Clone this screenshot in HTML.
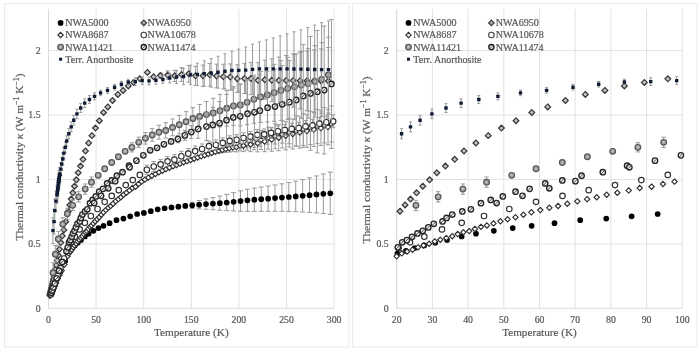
<!DOCTYPE html>
<html><head><meta charset="utf-8"><style>
html,body{margin:0;padding:0;background:#fff;width:700px;height:350px;overflow:hidden}
svg{display:block}
</style></head><body>
<svg width="700" height="350" viewBox="0 0 700 350" style="will-change:transform">
<rect width="700" height="350" fill="#fff"/>
<rect x="4.5" y="3.5" width="344.5" height="343.5" fill="none" stroke="#ebebeb" stroke-width="1"/><rect x="352.5" y="3.5" width="344.5" height="343.5" fill="none" stroke="#ebebeb" stroke-width="1"/><path d="M48.5 9.0V308.3M96.1 9.0V308.3M143.7 9.0V308.3M191.3 9.0V308.3M238.9 9.0V308.3M286.5 9.0V308.3M334.1 9.0V308.3M48.5 243.88H334.1M48.5 179.45H334.1M48.5 115.03H334.1M48.5 50.6H334.1" stroke="#e2e2e2" stroke-width="1" fill="none"/><path d="M48.5 308.3H334.1M48.5 9.0V308.3" stroke="#dadada" stroke-width="1" fill="none"/><g font-family="Liberation Serif" font-size="9.75" fill="#595959" stroke="#595959" stroke-width="0.22"><text x="48.5" y="323" text-anchor="middle">0</text><text x="96.1" y="323" text-anchor="middle">50</text><text x="143.7" y="323" text-anchor="middle">100</text><text x="191.3" y="323" text-anchor="middle">150</text><text x="238.9" y="323" text-anchor="middle">200</text><text x="286.5" y="323" text-anchor="middle">250</text><text x="334.1" y="323" text-anchor="middle">300</text><text x="40.5" y="311.6" text-anchor="end">0</text><text x="40.5" y="247.18" text-anchor="end">0.5</text><text x="40.5" y="182.75" text-anchor="end">1</text><text x="40.5" y="118.33" text-anchor="end">1.5</text><text x="40.5" y="53.9" text-anchor="end">2</text></g><text x="191.3" y="335.9" text-anchor="middle" font-family="Liberation Serif" font-size="11.2" fill="#595959" stroke="#595959" stroke-width="0.2">Temperature (K)</text><text transform="translate(23.4 157.0) rotate(-90)" text-anchor="middle" font-family="Liberation Serif" font-size="11.4" fill="#595959" stroke="#595959" stroke-width="0.2">Thermal conductivity <tspan font-style="italic">κ</tspan> (W m<tspan font-size="7.8" dy="-4.2">−1</tspan><tspan dy="4.2"> K</tspan><tspan font-size="7.8" dy="-4.2">−1</tspan><tspan dy="4.2">)</tspan></text><clipPath id="cL"><rect x="44.5" y="0" width="293.6" height="312.3"/></clipPath><g clip-path="url(#cL)"><path d="M185.3 204.07V207.84M182.8 204.07h5.0M182.8 207.84h5.0M192.2 202.3V208.35M189.7 202.3h5.0M189.7 208.35h5.0M199.11 200.52V208.82M196.61 200.52h5.0M196.61 208.82h5.0M206.01 198.91V209.23M203.51 198.91h5.0M203.51 209.23h5.0M212.91 197.49V209.72M210.41 197.49h5.0M210.41 209.72h5.0M219.81 196.06V210.22M217.31 196.06h5.0M217.31 210.22h5.0M226.71 194.4V210.65M224.21 194.4h5.0M224.21 210.65h5.0M233.62 192.61V211.04M231.12 192.61h5.0M231.12 211.04h5.0M240.52 190.83V211.27M238.02 190.83h5.0M238.02 211.27h5.0M247.42 189.26V211.36M244.92 189.26h5.0M244.92 211.36h5.0M254.32 188.02V211.38M251.82 188.02h5.0M251.82 211.38h5.0M261.22 186.96V211.35M258.72 186.96h5.0M258.72 211.35h5.0M268.13 185.96V211.3M265.63 185.96h5.0M265.63 211.3h5.0M275.03 184.96V211.27M272.53 184.96h5.0M272.53 211.27h5.0M281.93 183.84V211.29M279.43 183.84h5.0M279.43 211.29h5.0M288.83 182.57V211.43M286.33 182.57h5.0M286.33 211.43h5.0M295.73 181.14V211.69M293.23 181.14h5.0M293.23 211.69h5.0M302.64 179.57V212.05M300.14 179.57h5.0M300.14 212.05h5.0M309.54 177.81V212.45M307.04 177.81h5.0M307.04 212.45h5.0M316.44 175.93V212.92M313.94 175.93h5.0M313.94 212.92h5.0M323.34 174.01V213.54M320.84 174.01h5.0M320.84 213.54h5.0M330.24 172.13V214.36M327.74 172.13h5.0M327.74 214.36h5.0" stroke="#9a9a9a" stroke-width="1.0" fill="none"/><g fill="#000"><circle cx="51.83" cy="291.39" r="2.85"/><circle cx="53.1" cy="288.28" r="2.85"/><circle cx="54.85" cy="283.87" r="2.85"/><circle cx="57.26" cy="278.47" r="2.85"/><circle cx="60.58" cy="271.38" r="2.85"/><circle cx="65.18" cy="261.09" r="2.85"/><circle cx="67.73" cy="253.67" r="2.85"/><circle cx="70.02" cy="250.96" r="2.85"/><circle cx="72.3" cy="248" r="2.85"/><circle cx="74.87" cy="245.38" r="2.85"/><circle cx="77.82" cy="242.77" r="2.85"/><circle cx="80.96" cy="240.01" r="2.85"/><circle cx="84.87" cy="236.4" r="2.85"/><circle cx="88.67" cy="233.7" r="2.85"/><circle cx="93.43" cy="230.86" r="2.85"/><circle cx="98.48" cy="228.03" r="2.85"/><circle cx="103.53" cy="225.84" r="2.85"/><circle cx="109.62" cy="223.13" r="2.85"/><circle cx="116.47" cy="220.17" r="2.85"/><circle cx="123.42" cy="218.62" r="2.85"/><circle cx="130.18" cy="216.3" r="2.85"/><circle cx="137.13" cy="213.98" r="2.85"/><circle cx="143.89" cy="212.95" r="2.85"/><circle cx="150.79" cy="211.16" r="2.85"/><circle cx="157.69" cy="209.33" r="2.85"/><circle cx="164.6" cy="208.23" r="2.85"/><circle cx="171.5" cy="207.38" r="2.85"/><circle cx="178.4" cy="206.63" r="2.85"/><circle cx="185.3" cy="205.95" r="2.85"/><circle cx="192.2" cy="205.33" r="2.85"/><circle cx="199.11" cy="204.67" r="2.85"/><circle cx="206.01" cy="204.07" r="2.85"/><circle cx="212.91" cy="203.61" r="2.85"/><circle cx="219.81" cy="203.14" r="2.85"/><circle cx="226.71" cy="202.52" r="2.85"/><circle cx="233.62" cy="201.83" r="2.85"/><circle cx="240.52" cy="201.05" r="2.85"/><circle cx="247.42" cy="200.31" r="2.85"/><circle cx="254.32" cy="199.7" r="2.85"/><circle cx="261.22" cy="199.15" r="2.85"/><circle cx="268.13" cy="198.63" r="2.85"/><circle cx="275.03" cy="198.11" r="2.85"/><circle cx="281.93" cy="197.56" r="2.85"/><circle cx="288.83" cy="197" r="2.85"/><circle cx="295.73" cy="196.42" r="2.85"/><circle cx="302.64" cy="195.81" r="2.85"/><circle cx="309.54" cy="195.13" r="2.85"/><circle cx="316.44" cy="194.42" r="2.85"/><circle cx="323.34" cy="193.78" r="2.85"/><circle cx="330.24" cy="193.24" r="2.85"/></g><path d="M153.6 75.73V77.79M151.4 75.73h4.4M151.4 77.79h4.4M160.46 73.08V78.11M158.26 73.08h4.4M158.26 78.11h4.4M167.69 70.86V79.31M165.49 70.86h4.4M165.49 79.31h4.4M174.74 70.25V81.46M172.54 70.25h4.4M172.54 81.46h4.4M181.59 67.63V81.5M179.39 67.63h4.4M179.39 81.5h4.4M188.82 65.45V82.14M186.62 65.45h4.4M186.62 82.14h4.4M195.58 66.3V85.41M193.38 66.3h4.4M193.38 85.41h4.4M203.01 65.11V86.34M200.81 65.11h4.4M200.81 86.34h4.4M209.77 63.54V86.11M207.57 63.54h4.4M207.57 86.11h4.4M216.53 64.18V87.79M214.33 64.18h4.4M214.33 87.79h4.4M223.38 64.25V89M221.18 64.25h4.4M221.18 89h4.4M230.33 63.92V90.11M228.13 63.92h4.4M228.13 90.11h4.4M237.28 64.78V92.6M235.08 64.78h4.4M235.08 92.6h4.4M244.52 63.63V93.49M242.32 63.63h4.4M242.32 93.49h4.4M250.99 62.43V94.69M248.79 62.43h4.4M248.79 94.69h4.4M257.94 62.62V98.11M255.74 62.62h4.4M255.74 98.11h4.4M264.89 60.16V99.28M262.69 60.16h4.4M262.69 99.28h4.4M271.84 58.8V101.67M269.64 58.8h4.4M269.64 101.67h4.4M278.88 57.11V103.61M276.68 57.11h4.4M276.68 103.61h4.4M286.21 55.49V105.5M284.01 55.49h4.4M284.01 105.5h4.4M293.16 53.95V107.3M290.96 53.95h4.4M290.96 107.3h4.4M300.11 52.47V109.03M297.91 52.47h4.4M297.91 109.03h4.4M307.06 51V110.5M304.86 51h4.4M304.86 110.5h4.4M314.11 49.87V111.89M311.91 49.87h4.4M311.91 111.89h4.4M321.15 48.83V113.18M318.95 48.83h4.4M318.95 113.18h4.4M328.39 47.51V114.51M326.19 47.51h4.4M326.19 114.51h4.4" stroke="#9a9a9a" stroke-width="1.0" fill="none"/><g fill="#c6c6c6" stroke="#383838" stroke-width="1.25"><path d="M49.93 292.56l2.85 2.85l-2.85 2.85l-2.85 -2.85z"/><path d="M50.1 291.79l2.85 2.85l-2.85 2.85l-2.85 -2.85z"/><path d="M50.29 290.91l2.85 2.85l-2.85 2.85l-2.85 -2.85z"/><path d="M50.51 289.93l2.85 2.85l-2.85 2.85l-2.85 -2.85z"/><path d="M50.75 288.83l2.85 2.85l-2.85 2.85l-2.85 -2.85z"/><path d="M51.02 287.58l2.85 2.85l-2.85 2.85l-2.85 -2.85z"/><path d="M51.32 286.19l2.85 2.85l-2.85 2.85l-2.85 -2.85z"/><path d="M51.66 284.63l2.85 2.85l-2.85 2.85l-2.85 -2.85z"/><path d="M52.04 282.86l2.85 2.85l-2.85 2.85l-2.85 -2.85z"/><path d="M52.46 280.88l2.85 2.85l-2.85 2.85l-2.85 -2.85z"/><path d="M52.94 278.64l2.85 2.85l-2.85 2.85l-2.85 -2.85z"/><path d="M53.47 276.12l2.85 2.85l-2.85 2.85l-2.85 -2.85z"/><path d="M54.06 273.26l2.85 2.85l-2.85 2.85l-2.85 -2.85z"/><path d="M54.73 270.03l2.85 2.85l-2.85 2.85l-2.85 -2.85z"/><path d="M55.48 266.38l2.85 2.85l-2.85 2.85l-2.85 -2.85z"/><path d="M56.32 262.28l2.85 2.85l-2.85 2.85l-2.85 -2.85z"/><path d="M57.25 257.67l2.85 2.85l-2.85 2.85l-2.85 -2.85z"/><path d="M58.3 252.5l2.85 2.85l-2.85 2.85l-2.85 -2.85z"/><path d="M59.48 246.45l2.85 2.85l-2.85 2.85l-2.85 -2.85z"/><path d="M60.8 239.72l2.85 2.85l-2.85 2.85l-2.85 -2.85z"/><path d="M62.27 233.03l2.85 2.85l-2.85 2.85l-2.85 -2.85z"/><path d="M63.93 227.09l2.85 2.85l-2.85 2.85l-2.85 -2.85z"/><path d="M65.78 218.85l2.85 2.85l-2.85 2.85l-2.85 -2.85z"/><path d="M68.42 208.3l2.85 2.85l-2.85 2.85l-2.85 -2.85z"/><path d="M69.78 202.11l2.85 2.85l-2.85 2.85l-2.85 -2.85z"/><path d="M71.22 196.19l2.85 2.85l-2.85 2.85l-2.85 -2.85z"/><path d="M72.84 190l2.85 2.85l-2.85 2.85l-2.85 -2.85z"/><path d="M74.5 183.3l2.85 2.85l-2.85 2.85l-2.85 -2.85z"/><path d="M76.32 176.99l2.85 2.85l-2.85 2.85l-2.85 -2.85z"/><path d="M78.23 169.9l2.85 2.85l-2.85 2.85l-2.85 -2.85z"/><path d="M80.53 163.2l2.85 2.85l-2.85 2.85l-2.85 -2.85z"/><path d="M83.01 156.5l2.85 2.85l-2.85 2.85l-2.85 -2.85z"/><path d="M85.49 148.12l2.85 2.85l-2.85 2.85l-2.85 -2.85z"/><path d="M88.66 140.14l2.85 2.85l-2.85 2.85l-2.85 -2.85z"/><path d="M91.94 132.79l2.85 2.85l-2.85 2.85l-2.85 -2.85z"/><path d="M95.48 125.19l2.85 2.85l-2.85 2.85l-2.85 -2.85z"/><path d="M99.36 117.84l2.85 2.85l-2.85 2.85l-2.85 -2.85z"/><path d="M103.56 109.6l2.85 2.85l-2.85 2.85l-2.85 -2.85z"/><path d="M107.81 104.06l2.85 2.85l-2.85 2.85l-2.85 -2.85z"/><path d="M112.53 97.61l2.85 2.85l-2.85 2.85l-2.85 -2.85z"/><path d="M117.83 91.56l2.85 2.85l-2.85 2.85l-2.85 -2.85z"/><path d="M123.06 87.56l2.85 2.85l-2.85 2.85l-2.85 -2.85z"/><path d="M128.26 83.05l2.85 2.85l-2.85 2.85l-2.85 -2.85z"/><path d="M133.57 79.58l2.85 2.85l-2.85 2.85l-2.85 -2.85z"/><path d="M139.83 75.97l2.85 2.85l-2.85 2.85l-2.85 -2.85z"/><path d="M147.41 69.53l2.85 2.85l-2.85 2.85l-2.85 -2.85z"/><path d="M153.6 73.91l2.85 2.85l-2.85 2.85l-2.85 -2.85z"/><path d="M160.46 72.75l2.85 2.85l-2.85 2.85l-2.85 -2.85z"/><path d="M167.69 72.23l2.85 2.85l-2.85 2.85l-2.85 -2.85z"/><path d="M174.74 73l2.85 2.85l-2.85 2.85l-2.85 -2.85z"/><path d="M181.59 71.72l2.85 2.85l-2.85 2.85l-2.85 -2.85z"/><path d="M188.82 70.94l2.85 2.85l-2.85 2.85l-2.85 -2.85z"/><path d="M195.58 73l2.85 2.85l-2.85 2.85l-2.85 -2.85z"/><path d="M203.01 72.88l2.85 2.85l-2.85 2.85l-2.85 -2.85z"/><path d="M209.77 71.97l2.85 2.85l-2.85 2.85l-2.85 -2.85z"/><path d="M216.53 73.13l2.85 2.85l-2.85 2.85l-2.85 -2.85z"/><path d="M223.38 73.78l2.85 2.85l-2.85 2.85l-2.85 -2.85z"/><path d="M230.33 74.16l2.85 2.85l-2.85 2.85l-2.85 -2.85z"/><path d="M237.28 75.84l2.85 2.85l-2.85 2.85l-2.85 -2.85z"/><path d="M244.52 75.71l2.85 2.85l-2.85 2.85l-2.85 -2.85z"/><path d="M250.99 75.71l2.85 2.85l-2.85 2.85l-2.85 -2.85z"/><path d="M257.94 77.51l2.85 2.85l-2.85 2.85l-2.85 -2.85z"/><path d="M264.89 76.87l2.85 2.85l-2.85 2.85l-2.85 -2.85z"/><path d="M271.84 77.39l2.85 2.85l-2.85 2.85l-2.85 -2.85z"/><path d="M278.88 77.51l2.85 2.85l-2.85 2.85l-2.85 -2.85z"/><path d="M286.21 77.64l2.85 2.85l-2.85 2.85l-2.85 -2.85z"/><path d="M293.16 77.77l2.85 2.85l-2.85 2.85l-2.85 -2.85z"/><path d="M300.11 77.9l2.85 2.85l-2.85 2.85l-2.85 -2.85z"/><path d="M307.06 77.9l2.85 2.85l-2.85 2.85l-2.85 -2.85z"/><path d="M314.11 78.03l2.85 2.85l-2.85 2.85l-2.85 -2.85z"/><path d="M321.15 78.16l2.85 2.85l-2.85 2.85l-2.85 -2.85z"/><path d="M328.39 78.16l2.85 2.85l-2.85 2.85l-2.85 -2.85z"/></g><path d="M208.25 153.08V154.99M206.05 153.08h4.4M206.05 154.99h4.4M211.77 151.57V154.27M209.57 151.57h4.4M209.57 154.27h4.4M215.29 150.08V153.64M213.09 150.08h4.4M213.09 153.64h4.4M218.81 148.62V153.12M216.61 148.62h4.4M216.61 153.12h4.4M222.34 147.21V152.7M220.14 147.21h4.4M220.14 152.7h4.4M225.86 145.85V152.36M223.66 145.85h4.4M223.66 152.36h4.4M229.38 144.53V152.09M227.18 144.53h4.4M227.18 152.09h4.4M232.9 143.09V151.69M230.7 143.09h4.4M230.7 151.69h4.4M236.42 142.24V151.85M234.22 142.24h4.4M234.22 151.85h4.4M239.95 140.24V150.84M237.75 140.24h4.4M237.75 150.84h4.4M243.47 139.91V151.62M241.27 139.91h4.4M241.27 151.62h4.4M246.99 137.22V150.19M244.79 137.22h4.4M244.79 150.19h4.4M250.51 137.33V151.68M248.31 137.33h4.4M248.31 151.68h4.4M254.04 133.95V149.77M251.84 133.95h4.4M251.84 149.77h4.4M257.56 134.52V151.86M255.36 134.52h4.4M255.36 151.86h4.4M261.08 130.58V149.48M258.88 130.58h4.4M258.88 149.48h4.4M264.6 131.22V151.68M262.4 131.22h4.4M262.4 151.68h4.4M268.13 127.21V149.2M265.93 127.21h4.4M265.93 149.2h4.4M271.65 127.85V151.31M269.45 127.85h4.4M269.45 151.31h4.4M275.17 123.89V148.73M272.97 123.89h4.4M272.97 148.73h4.4M278.69 124.62V150.73M276.49 124.62h4.4M276.49 150.73h4.4M282.22 120.8V148.03M280.02 120.8h4.4M280.02 148.03h4.4M285.74 121.73V149.9M283.54 121.73h4.4M283.54 149.9h4.4M289.26 118.13V147.1M287.06 118.13h4.4M287.06 147.1h4.4M292.78 119.21V148.97M290.58 119.21h4.4M290.58 148.97h4.4M296.31 115.7V146.21M294.11 115.7h4.4M294.11 146.21h4.4M299.83 116.85V148.1M297.63 116.85h4.4M297.63 148.1h4.4M303.35 113.39V145.35M301.15 113.39h4.4M301.15 145.35h4.4M306.87 114.61V147.24M304.67 114.61h4.4M304.67 147.24h4.4M310.4 111.23V144.49M308.2 111.23h4.4M308.2 144.49h4.4M313.92 112.54V146.39M311.72 112.54h4.4M311.72 146.39h4.4M317.44 109.26V143.64M315.24 109.26h4.4M315.24 143.64h4.4M320.96 110.71V145.57M318.76 110.71h4.4M318.76 145.57h4.4M324.48 107.6V142.88M322.28 107.6h4.4M322.28 142.88h4.4M328.01 109.15V144.79M325.81 109.15h4.4M325.81 144.79h4.4M331.53 106.03V141.94M329.33 106.03h4.4M329.33 141.94h4.4" stroke="#9a9a9a" stroke-width="1.0" fill="none"/><g fill="#fff" stroke="#303030" stroke-width="1.15"><path d="M50.69 292.15l2.65 2.65l-2.65 2.65l-2.65 -2.65z"/><path d="M51.7 289.97l2.65 2.65l-2.65 2.65l-2.65 -2.65z"/><path d="M52.73 287.73l2.65 2.65l-2.65 2.65l-2.65 -2.65z"/><path d="M53.79 285.48l2.65 2.65l-2.65 2.65l-2.65 -2.65z"/><path d="M54.87 283.13l2.65 2.65l-2.65 2.65l-2.65 -2.65z"/><path d="M56.14 280.04l2.65 2.65l-2.65 2.65l-2.65 -2.65z"/><path d="M57.67 276.17l2.65 2.65l-2.65 2.65l-2.65 -2.65z"/><path d="M59.51 272.31l2.65 2.65l-2.65 2.65l-2.65 -2.65z"/><path d="M61.71 267.81l2.65 2.65l-2.65 2.65l-2.65 -2.65z"/><path d="M64.35 261.97l2.65 2.65l-2.65 2.65l-2.65 -2.65z"/><path d="M67.52 253.67l2.65 2.65l-2.65 2.65l-2.65 -2.65z"/><path d="M68.87 250.76l2.65 2.65l-2.65 2.65l-2.65 -2.65z"/><path d="M70.3 248.82l2.65 2.65l-2.65 2.65l-2.65 -2.65z"/><path d="M71.76 247.02l2.65 2.65l-2.65 2.65l-2.65 -2.65z"/><path d="M73.22 244.7l2.65 2.65l-2.65 2.65l-2.65 -2.65z"/><path d="M74.69 242.77l2.65 2.65l-2.65 2.65l-2.65 -2.65z"/><path d="M76.18 241.1l2.65 2.65l-2.65 2.65l-2.65 -2.65z"/><path d="M77.7 238.78l2.65 2.65l-2.65 2.65l-2.65 -2.65z"/><path d="M79.16 237.1l2.65 2.65l-2.65 2.65l-2.65 -2.65z"/><path d="M80.76 235.3l2.65 2.65l-2.65 2.65l-2.65 -2.65z"/><path d="M82.34 233.62l2.65 2.65l-2.65 2.65l-2.65 -2.65z"/><path d="M83.81 231.43l2.65 2.65l-2.65 2.65l-2.65 -2.65z"/><path d="M85.32 229.63l2.65 2.65l-2.65 2.65l-2.65 -2.65z"/><path d="M86.88 228.47l2.65 2.65l-2.65 2.65l-2.65 -2.65z"/><path d="M88.39 226.28l2.65 2.65l-2.65 2.65l-2.65 -2.65z"/><path d="M90 224.22l2.65 2.65l-2.65 2.65l-2.65 -2.65z"/><path d="M91.6 222.8l2.65 2.65l-2.65 2.65l-2.65 -2.65z"/><path d="M93.35 220.74l2.65 2.65l-2.65 2.65l-2.65 -2.65z"/><path d="M95.2 218.68l2.65 2.65l-2.65 2.65l-2.65 -2.65z"/><path d="M97.11 216.61l2.65 2.65l-2.65 2.65l-2.65 -2.65z"/><path d="M99.22 214.55l2.65 2.65l-2.65 2.65l-2.65 -2.65z"/><path d="M101.33 212.1l2.65 2.65l-2.65 2.65l-2.65 -2.65z"/><path d="M103.46 209.66l2.65 2.65l-2.65 2.65l-2.65 -2.65z"/><path d="M105.83 207.47l2.65 2.65l-2.65 2.65l-2.65 -2.65z"/><path d="M108.26 205.15l2.65 2.65l-2.65 2.65l-2.65 -2.65z"/><path d="M110.58 203.34l2.65 2.65l-2.65 2.65l-2.65 -2.65z"/><path d="M113.04 201.02l2.65 2.65l-2.65 2.65l-2.65 -2.65z"/><path d="M115.7 198.7l2.65 2.65l-2.65 2.65l-2.65 -2.65z"/><path d="M118.31 196.51l2.65 2.65l-2.65 2.65l-2.65 -2.65z"/><path d="M120.87 194.58l2.65 2.65l-2.65 2.65l-2.65 -2.65z"/><path d="M123.54 192.13l2.65 2.65l-2.65 2.65l-2.65 -2.65z"/><path d="M126.36 190.07l2.65 2.65l-2.65 2.65l-2.65 -2.65z"/><path d="M129.41 187.75l2.65 2.65l-2.65 2.65l-2.65 -2.65z"/><path d="M132.34 185.3l2.65 2.65l-2.65 2.65l-2.65 -2.65z"/><path d="M135.51 184.02l2.65 2.65l-2.65 2.65l-2.65 -2.65z"/><path d="M138.55 181.31l2.65 2.65l-2.65 2.65l-2.65 -2.65z"/><path d="M141.62 178.99l2.65 2.65l-2.65 2.65l-2.65 -2.65z"/><path d="M144.84 176.98l2.65 2.65l-2.65 2.65l-2.65 -2.65z"/><path d="M148.36 174.95l2.65 2.65l-2.65 2.65l-2.65 -2.65z"/><path d="M151.89 173.06l2.65 2.65l-2.65 2.65l-2.65 -2.65z"/><path d="M155.41 171.29l2.65 2.65l-2.65 2.65l-2.65 -2.65z"/><path d="M158.93 169.62l2.65 2.65l-2.65 2.65l-2.65 -2.65z"/><path d="M162.45 168.03l2.65 2.65l-2.65 2.65l-2.65 -2.65z"/><path d="M165.98 166.5l2.65 2.65l-2.65 2.65l-2.65 -2.65z"/><path d="M169.5 165.04l2.65 2.65l-2.65 2.65l-2.65 -2.65z"/><path d="M173.02 163.64l2.65 2.65l-2.65 2.65l-2.65 -2.65z"/><path d="M176.54 162.29l2.65 2.65l-2.65 2.65l-2.65 -2.65z"/><path d="M180.07 160.99l2.65 2.65l-2.65 2.65l-2.65 -2.65z"/><path d="M183.59 159.72l2.65 2.65l-2.65 2.65l-2.65 -2.65z"/><path d="M187.11 158.49l2.65 2.65l-2.65 2.65l-2.65 -2.65z"/><path d="M190.63 157.27l2.65 2.65l-2.65 2.65l-2.65 -2.65z"/><path d="M194.16 156.08l2.65 2.65l-2.65 2.65l-2.65 -2.65z"/><path d="M197.68 154.89l2.65 2.65l-2.65 2.65l-2.65 -2.65z"/><path d="M201.2 153.71l2.65 2.65l-2.65 2.65l-2.65 -2.65z"/><path d="M204.72 152.53l2.65 2.65l-2.65 2.65l-2.65 -2.65z"/><path d="M208.25 151.38l2.65 2.65l-2.65 2.65l-2.65 -2.65z"/><path d="M211.77 150.27l2.65 2.65l-2.65 2.65l-2.65 -2.65z"/><path d="M215.29 149.21l2.65 2.65l-2.65 2.65l-2.65 -2.65z"/><path d="M218.81 148.22l2.65 2.65l-2.65 2.65l-2.65 -2.65z"/><path d="M222.34 147.3l2.65 2.65l-2.65 2.65l-2.65 -2.65z"/><path d="M225.86 146.46l2.65 2.65l-2.65 2.65l-2.65 -2.65z"/><path d="M229.38 145.66l2.65 2.65l-2.65 2.65l-2.65 -2.65z"/><path d="M232.9 144.74l2.65 2.65l-2.65 2.65l-2.65 -2.65z"/><path d="M236.42 144.4l2.65 2.65l-2.65 2.65l-2.65 -2.65z"/><path d="M239.95 142.89l2.65 2.65l-2.65 2.65l-2.65 -2.65z"/><path d="M243.47 143.11l2.65 2.65l-2.65 2.65l-2.65 -2.65z"/><path d="M246.99 141.06l2.65 2.65l-2.65 2.65l-2.65 -2.65z"/><path d="M250.51 141.86l2.65 2.65l-2.65 2.65l-2.65 -2.65z"/><path d="M254.04 139.21l2.65 2.65l-2.65 2.65l-2.65 -2.65z"/><path d="M257.56 140.54l2.65 2.65l-2.65 2.65l-2.65 -2.65z"/><path d="M261.08 137.38l2.65 2.65l-2.65 2.65l-2.65 -2.65z"/><path d="M264.6 138.8l2.65 2.65l-2.65 2.65l-2.65 -2.65z"/><path d="M268.13 135.56l2.65 2.65l-2.65 2.65l-2.65 -2.65z"/><path d="M271.65 136.93l2.65 2.65l-2.65 2.65l-2.65 -2.65z"/><path d="M275.17 133.66l2.65 2.65l-2.65 2.65l-2.65 -2.65z"/><path d="M278.69 135.02l2.65 2.65l-2.65 2.65l-2.65 -2.65z"/><path d="M282.22 131.77l2.65 2.65l-2.65 2.65l-2.65 -2.65z"/><path d="M285.74 133.17l2.65 2.65l-2.65 2.65l-2.65 -2.65z"/><path d="M289.26 129.96l2.65 2.65l-2.65 2.65l-2.65 -2.65z"/><path d="M292.78 131.44l2.65 2.65l-2.65 2.65l-2.65 -2.65z"/><path d="M296.31 128.3l2.65 2.65l-2.65 2.65l-2.65 -2.65z"/><path d="M299.83 129.82l2.65 2.65l-2.65 2.65l-2.65 -2.65z"/><path d="M303.35 126.72l2.65 2.65l-2.65 2.65l-2.65 -2.65z"/><path d="M306.87 128.27l2.65 2.65l-2.65 2.65l-2.65 -2.65z"/><path d="M310.4 125.21l2.65 2.65l-2.65 2.65l-2.65 -2.65z"/><path d="M313.92 126.81l2.65 2.65l-2.65 2.65l-2.65 -2.65z"/><path d="M317.44 123.8l2.65 2.65l-2.65 2.65l-2.65 -2.65z"/><path d="M320.96 125.49l2.65 2.65l-2.65 2.65l-2.65 -2.65z"/><path d="M324.48 122.59l2.65 2.65l-2.65 2.65l-2.65 -2.65z"/><path d="M328.01 124.32l2.65 2.65l-2.65 2.65l-2.65 -2.65z"/><path d="M331.53 121.34l2.65 2.65l-2.65 2.65l-2.65 -2.65z"/></g><path d="M146.84 165.27V174.3M144.64 165.27h4.4M144.64 174.3h4.4M153.74 161.58V171.45M151.54 161.58h4.4M151.54 171.45h4.4M160.65 159.46V169.41M158.45 159.46h4.4M158.45 169.41h4.4M167.55 156.33V166.34M165.35 156.33h4.4M165.35 166.34h4.4M174.45 154.61V164.66M172.25 154.61h4.4M172.25 164.66h4.4M181.35 151.24V161.32M179.15 151.24h4.4M179.15 161.32h4.4M188.25 148.59V158.7M186.05 148.59h4.4M186.05 158.7h4.4M195.16 146.03V156.15M192.96 146.03h4.4M192.96 156.15h4.4M202.06 143.97V154.11M199.86 143.97h4.4M199.86 154.11h4.4M208.96 141.09V151.24M206.76 141.09h4.4M206.76 151.24h4.4M215.86 139.89V150.06M213.66 139.89h4.4M213.66 150.06h4.4M222.76 137.83V148.03M220.56 137.83h4.4M220.56 148.03h4.4M229.67 135.82V146.06M227.47 135.82h4.4M227.47 146.06h4.4M236.57 134.63V144.92M234.37 134.63h4.4M234.37 144.92h4.4M243.47 132.81V143.16M241.27 132.81h4.4M241.27 143.16h4.4M250.37 131.45V141.9M248.17 131.45h4.4M248.17 141.9h4.4M257.27 129.54V140.1M255.07 129.54h4.4M255.07 140.1h4.4M264.18 128.95V139.65M261.98 128.95h4.4M261.98 139.65h4.4M271.08 127.4V138.25M268.88 127.4h4.4M268.88 138.25h4.4M277.98 125.71V136.73M275.78 125.71h4.4M275.78 136.73h4.4M284.88 124.42V135.63M282.68 124.42h4.4M282.68 135.63h4.4M291.78 123.2V134.61M289.58 123.2h4.4M289.58 134.61h4.4M298.69 122.2V133.83M296.49 122.2h4.4M296.49 133.83h4.4M305.59 120.48V132.34M303.39 120.48h4.4M303.39 132.34h4.4M312.49 119.27V131.36M310.29 119.27h4.4M310.29 131.36h4.4M319.39 117.51V129.84M317.19 117.51h4.4M317.19 129.84h4.4M326.29 115.96V128.55M324.09 115.96h4.4M324.09 128.55h4.4M333.2 114.88V127.73M331 114.88h4.4M331 127.73h4.4" stroke="#9a9a9a" stroke-width="1.0" fill="none"/><g fill="#fff" stroke="#2e2e2e" stroke-width="1.15"><circle cx="50.98" cy="294.41" r="2.75"/><circle cx="51.72" cy="292.44" r="2.75"/><circle cx="52.68" cy="289.87" r="2.75"/><circle cx="53.94" cy="286.51" r="2.75"/><circle cx="55.57" cy="282.11" r="2.75"/><circle cx="57.69" cy="276.04" r="2.75"/><circle cx="60.45" cy="268.18" r="2.75"/><circle cx="64.03" cy="258.51" r="2.75"/><circle cx="68.04" cy="248" r="2.75"/><circle cx="71.09" cy="242.33" r="2.75"/><circle cx="74.9" cy="236.66" r="2.75"/><circle cx="79.62" cy="229.44" r="2.75"/><circle cx="84.88" cy="222.87" r="2.75"/><circle cx="90.82" cy="216.04" r="2.75"/><circle cx="97.57" cy="208.96" r="2.75"/><circle cx="104.69" cy="201.87" r="2.75"/><circle cx="111.75" cy="195.94" r="2.75"/><circle cx="118.74" cy="190.14" r="2.75"/><circle cx="125.75" cy="185.12" r="2.75"/><circle cx="132.77" cy="180.09" r="2.75"/><circle cx="139.83" cy="174.94" r="2.75"/><circle cx="146.84" cy="169.79" r="2.75"/><circle cx="153.74" cy="166.51" r="2.75"/><circle cx="160.65" cy="164.43" r="2.75"/><circle cx="167.55" cy="161.34" r="2.75"/><circle cx="174.45" cy="159.64" r="2.75"/><circle cx="181.35" cy="156.28" r="2.75"/><circle cx="188.25" cy="153.64" r="2.75"/><circle cx="195.16" cy="151.09" r="2.75"/><circle cx="202.06" cy="149.04" r="2.75"/><circle cx="208.96" cy="146.16" r="2.75"/><circle cx="215.86" cy="144.98" r="2.75"/><circle cx="222.76" cy="142.93" r="2.75"/><circle cx="229.67" cy="140.94" r="2.75"/><circle cx="236.57" cy="139.77" r="2.75"/><circle cx="243.47" cy="137.99" r="2.75"/><circle cx="250.37" cy="136.67" r="2.75"/><circle cx="257.27" cy="134.82" r="2.75"/><circle cx="264.18" cy="134.3" r="2.75"/><circle cx="271.08" cy="132.83" r="2.75"/><circle cx="277.98" cy="131.22" r="2.75"/><circle cx="284.88" cy="130.03" r="2.75"/><circle cx="291.78" cy="128.9" r="2.75"/><circle cx="298.69" cy="128.01" r="2.75"/><circle cx="305.59" cy="126.41" r="2.75"/><circle cx="312.49" cy="125.31" r="2.75"/><circle cx="319.39" cy="123.67" r="2.75"/><circle cx="326.29" cy="122.26" r="2.75"/><circle cx="333.2" cy="121.3" r="2.75"/></g><path d="M53.07 262.7V282.57M50.87 262.7h4.4M50.87 282.57h4.4M55.35 245.45V262.92M53.15 245.45h4.4M53.15 262.92h4.4M58.31 231.33V246.63M56.11 231.33h4.4M56.11 246.63h4.4M62.78 217.69V230.63M60.58 217.69h4.4M60.58 230.63h4.4M67.35 208.17V219.28M65.15 208.17h4.4M65.15 219.28h4.4M72.66 200.19V210.5M70.46 200.19h4.4M70.46 210.5h4.4M78.6 191.69V202M76.4 191.69h4.4M76.4 202h4.4M85.19 183.96V194.27M82.99 183.96h4.4M82.99 194.27h4.4M91.51 177.01V187.3M89.31 177.01h4.4M89.31 187.3h4.4M98.2 173.65V177M96 173.65h4.4M96 177h4.4M104.69 167.07V170.44M102.49 167.07h4.4M102.49 170.44h4.4M111.7 160.84V164.3M109.5 160.84h4.4M109.5 164.3h4.4M118.4 154.96V158.58M116.2 154.96h4.4M116.2 158.58h4.4M125.14 149.39V153.34M122.94 149.39h4.4M122.94 153.34h4.4M131.86 142.79V151.95M129.66 142.79h4.4M129.66 151.95h4.4M138.74 137.2V147.48M136.54 137.2h4.4M136.54 147.48h4.4M145.41 132.61V144.08M143.21 132.61h4.4M143.21 144.08h4.4M152.19 128.64V141.34M149.99 128.64h4.4M149.99 141.34h4.4M158.97 125.22V139.21M156.77 125.22h4.4M156.77 139.21h4.4M165.75 122.76V138.11M163.55 122.76h4.4M163.55 138.11h4.4M172.53 118.99V135.8M170.33 118.99h4.4M170.33 135.8h4.4M179.3 115.51V133.87M177.1 115.51h4.4M177.1 133.87h4.4M186.08 111.62V131.63M183.88 111.62h4.4M183.88 131.63h4.4M192.86 107.6V129.43M190.66 107.6h4.4M190.66 129.43h4.4M199.64 104.45V128.34M197.44 104.45h4.4M197.44 128.34h4.4M206.42 101.43V127.8M204.22 101.43h4.4M204.22 127.8h4.4M213.2 98.31V127.61M211 98.31h4.4M211 127.61h4.4M219.97 94.43V126.91M217.77 94.43h4.4M217.77 126.91h4.4M226.75 90.39V126.1M224.55 90.39h4.4M224.55 126.1h4.4M233.53 86.65V125.46M231.33 86.65h4.4M231.33 125.46h4.4M240.31 84.13V125.95M238.11 84.13h4.4M238.11 125.95h4.4M247.09 79.91V124.81M244.89 79.91h4.4M244.89 124.81h4.4M253.87 75.34V123.33M251.67 75.34h4.4M251.67 123.33h4.4M260.64 71.51V122.56M258.44 71.51h4.4M258.44 122.56h4.4M267.42 67.88V121.95M265.22 67.88h4.4M265.22 121.95h4.4M274.2 64.29V121.26M272 64.29h4.4M272 121.26h4.4M280.98 60.62V120.35M278.78 60.62h4.4M278.78 120.35h4.4M287.76 57.3V119.61M285.56 57.3h4.4M285.56 119.61h4.4M294.53 54.44V119.21M292.33 54.44h4.4M292.33 119.21h4.4M301.31 51.43V118.57M299.11 51.43h4.4M299.11 118.57h4.4M308.09 48.69V118.13M305.89 48.69h4.4M305.89 118.13h4.4M314.87 45.58V117.21M312.67 45.58h4.4M312.67 117.21h4.4M321.65 42.64V116.37M319.45 42.64h4.4M319.45 116.37h4.4M328.43 37.21V112.94M326.23 37.21h4.4M326.23 112.94h4.4" stroke="#9a9a9a" stroke-width="1.0" fill="none"/><g fill="#a0a0a0" stroke="#555" stroke-width="1.2"><circle cx="53.07" cy="272.64" r="2.85"/><circle cx="53.07" cy="272.64" r="1.0" fill="#c4c4c4" stroke="none"/><circle cx="55.35" cy="254.18" r="2.85"/><circle cx="55.35" cy="254.18" r="1.0" fill="#c4c4c4" stroke="none"/><circle cx="58.31" cy="238.98" r="2.85"/><circle cx="58.31" cy="238.98" r="1.0" fill="#c4c4c4" stroke="none"/><circle cx="62.78" cy="224.16" r="2.85"/><circle cx="62.78" cy="224.16" r="1.0" fill="#c4c4c4" stroke="none"/><circle cx="67.35" cy="213.72" r="2.85"/><circle cx="67.35" cy="213.72" r="1.0" fill="#c4c4c4" stroke="none"/><circle cx="72.66" cy="205.35" r="2.85"/><circle cx="72.66" cy="205.35" r="1.0" fill="#c4c4c4" stroke="none"/><circle cx="78.6" cy="196.84" r="2.85"/><circle cx="78.6" cy="196.84" r="1.0" fill="#c4c4c4" stroke="none"/><circle cx="85.19" cy="189.11" r="2.85"/><circle cx="85.19" cy="189.11" r="1.0" fill="#c4c4c4" stroke="none"/><circle cx="91.51" cy="182.16" r="2.85"/><circle cx="91.51" cy="182.16" r="1.0" fill="#c4c4c4" stroke="none"/><circle cx="98.2" cy="175.33" r="2.85"/><circle cx="98.2" cy="175.33" r="1.0" fill="#c4c4c4" stroke="none"/><circle cx="104.69" cy="168.76" r="2.85"/><circle cx="104.69" cy="168.76" r="1.0" fill="#c4c4c4" stroke="none"/><circle cx="111.7" cy="162.57" r="2.85"/><circle cx="111.7" cy="162.57" r="1.0" fill="#c4c4c4" stroke="none"/><circle cx="118.4" cy="156.77" r="2.85"/><circle cx="118.4" cy="156.77" r="1.0" fill="#c4c4c4" stroke="none"/><circle cx="125.14" cy="151.36" r="2.85"/><circle cx="125.14" cy="151.36" r="1.0" fill="#c4c4c4" stroke="none"/><circle cx="131.86" cy="147.37" r="2.85"/><circle cx="131.86" cy="147.37" r="1.0" fill="#c4c4c4" stroke="none"/><circle cx="138.74" cy="142.34" r="2.85"/><circle cx="138.74" cy="142.34" r="1.0" fill="#c4c4c4" stroke="none"/><circle cx="145.41" cy="138.35" r="2.85"/><circle cx="145.41" cy="138.35" r="1.0" fill="#c4c4c4" stroke="none"/><circle cx="152.19" cy="134.99" r="2.85"/><circle cx="152.19" cy="134.99" r="1.0" fill="#c4c4c4" stroke="none"/><circle cx="158.97" cy="132.21" r="2.85"/><circle cx="158.97" cy="132.21" r="1.0" fill="#c4c4c4" stroke="none"/><circle cx="165.75" cy="130.43" r="2.85"/><circle cx="165.75" cy="130.43" r="1.0" fill="#c4c4c4" stroke="none"/><circle cx="172.53" cy="127.4" r="2.85"/><circle cx="172.53" cy="127.4" r="1.0" fill="#c4c4c4" stroke="none"/><circle cx="179.3" cy="124.69" r="2.85"/><circle cx="179.3" cy="124.69" r="1.0" fill="#c4c4c4" stroke="none"/><circle cx="186.08" cy="121.63" r="2.85"/><circle cx="186.08" cy="121.63" r="1.0" fill="#c4c4c4" stroke="none"/><circle cx="192.86" cy="118.51" r="2.85"/><circle cx="192.86" cy="118.51" r="1.0" fill="#c4c4c4" stroke="none"/><circle cx="199.64" cy="116.39" r="2.85"/><circle cx="199.64" cy="116.39" r="1.0" fill="#c4c4c4" stroke="none"/><circle cx="206.42" cy="114.62" r="2.85"/><circle cx="206.42" cy="114.62" r="1.0" fill="#c4c4c4" stroke="none"/><circle cx="213.2" cy="112.96" r="2.85"/><circle cx="213.2" cy="112.96" r="1.0" fill="#c4c4c4" stroke="none"/><circle cx="219.97" cy="110.67" r="2.85"/><circle cx="219.97" cy="110.67" r="1.0" fill="#c4c4c4" stroke="none"/><circle cx="226.75" cy="108.25" r="2.85"/><circle cx="226.75" cy="108.25" r="1.0" fill="#c4c4c4" stroke="none"/><circle cx="233.53" cy="106.05" r="2.85"/><circle cx="233.53" cy="106.05" r="1.0" fill="#c4c4c4" stroke="none"/><circle cx="240.31" cy="105.04" r="2.85"/><circle cx="240.31" cy="105.04" r="1.0" fill="#c4c4c4" stroke="none"/><circle cx="247.09" cy="102.36" r="2.85"/><circle cx="247.09" cy="102.36" r="1.0" fill="#c4c4c4" stroke="none"/><circle cx="253.87" cy="99.33" r="2.85"/><circle cx="253.87" cy="99.33" r="1.0" fill="#c4c4c4" stroke="none"/><circle cx="260.64" cy="97.04" r="2.85"/><circle cx="260.64" cy="97.04" r="1.0" fill="#c4c4c4" stroke="none"/><circle cx="267.42" cy="94.92" r="2.85"/><circle cx="267.42" cy="94.92" r="1.0" fill="#c4c4c4" stroke="none"/><circle cx="274.2" cy="92.78" r="2.85"/><circle cx="274.2" cy="92.78" r="1.0" fill="#c4c4c4" stroke="none"/><circle cx="280.98" cy="90.48" r="2.85"/><circle cx="280.98" cy="90.48" r="1.0" fill="#c4c4c4" stroke="none"/><circle cx="287.76" cy="88.45" r="2.85"/><circle cx="287.76" cy="88.45" r="1.0" fill="#c4c4c4" stroke="none"/><circle cx="294.53" cy="86.83" r="2.85"/><circle cx="294.53" cy="86.83" r="1.0" fill="#c4c4c4" stroke="none"/><circle cx="301.31" cy="85" r="2.85"/><circle cx="301.31" cy="85" r="1.0" fill="#c4c4c4" stroke="none"/><circle cx="308.09" cy="83.41" r="2.85"/><circle cx="308.09" cy="83.41" r="1.0" fill="#c4c4c4" stroke="none"/><circle cx="314.87" cy="81.39" r="2.85"/><circle cx="314.87" cy="81.39" r="1.0" fill="#c4c4c4" stroke="none"/><circle cx="321.65" cy="79.5" r="2.85"/><circle cx="321.65" cy="79.5" r="1.0" fill="#c4c4c4" stroke="none"/><circle cx="328.43" cy="75.07" r="2.85"/><circle cx="328.43" cy="75.07" r="1.0" fill="#c4c4c4" stroke="none"/></g><path d="M163.88 142.95V145.6M161.68 142.95h4.4M161.68 145.6h4.4M171.12 139.08V143.8M168.92 139.08h4.4M168.92 143.8h4.4M177.97 135.55V142.69M175.77 135.55h4.4M175.77 142.69h4.4M184.83 130.41V140.36M182.63 130.41h4.4M182.63 140.36h4.4M191.3 125.59V138.48M189.1 125.59h4.4M189.1 138.48h4.4M198.15 119.57V138.31M195.95 119.57h4.4M195.95 138.31h4.4M206.44 112.83V140.41M204.24 112.83h4.4M204.24 140.41h4.4M212.82 107.51V142.38M210.62 107.51h4.4M210.62 142.38h4.4M219.57 101.57V144.72M217.37 101.57h4.4M217.37 144.72h4.4M226.52 94.43V145.93M224.32 94.43h4.4M224.32 145.93h4.4M233.28 88.1V146.85M231.08 88.1h4.4M231.08 146.85h4.4M240.23 84.04V148.59M238.03 84.04h4.4M238.03 148.59h4.4M247.56 79.65V147.83M245.36 79.65h4.4M245.36 147.83h4.4M254.42 77.19V147.45M252.22 77.19h4.4M252.22 147.45h4.4M259.84 74.9V146.38M257.64 74.9h4.4M257.64 146.38h4.4M267.56 71.16V144.2M265.36 71.16h4.4M265.36 144.2h4.4M274.98 69.08V143.96M272.78 69.08h4.4M272.78 143.96h4.4M282.22 65.57V143.09M280.02 65.57h4.4M280.02 143.09h4.4M289.36 60.49V143.79M287.16 60.49h4.4M287.16 143.79h4.4M296.21 53.9V146M294.01 53.9h4.4M294.01 146h4.4M303.26 44.56V147.35M301.06 44.56h4.4M301.06 147.35h4.4M310.49 36.5V150.25M308.29 36.5h4.4M308.29 150.25h4.4M317.34 30.49V152.91M315.14 30.49h4.4M315.14 152.91h4.4M324.2 26.11V153.94M322 26.11h4.4M322 153.94h4.4M331.43 19.55V148.4M329.23 19.55h4.4M329.23 148.4h4.4" stroke="#9a9a9a" stroke-width="1.0" fill="none"/><g fill="#f0f0f0" stroke="#262626" stroke-width="1.35"><circle cx="51.36" cy="292.84" r="2.7"/><path d="M49.66 294.54l3.4 -3.4" stroke="#4a4a4a" stroke-width="1.0"/><circle cx="52.21" cy="290.52" r="2.7"/><path d="M50.51 292.22l3.4 -3.4" stroke="#4a4a4a" stroke-width="1.0"/><circle cx="53.33" cy="287.5" r="2.7"/><path d="M51.63 289.2l3.4 -3.4" stroke="#4a4a4a" stroke-width="1.0"/><circle cx="54.77" cy="283.65" r="2.7"/><path d="M53.07 285.35l3.4 -3.4" stroke="#4a4a4a" stroke-width="1.0"/><circle cx="56.66" cy="278.34" r="2.7"/><path d="M54.96 280.04l3.4 -3.4" stroke="#4a4a4a" stroke-width="1.0"/><circle cx="59.1" cy="270.66" r="2.7"/><path d="M57.4 272.36l3.4 -3.4" stroke="#4a4a4a" stroke-width="1.0"/><circle cx="62.29" cy="261.95" r="2.7"/><path d="M60.59 263.65l3.4 -3.4" stroke="#4a4a4a" stroke-width="1.0"/><circle cx="66.42" cy="251.18" r="2.7"/><path d="M64.72 252.88l3.4 -3.4" stroke="#4a4a4a" stroke-width="1.0"/><circle cx="67.84" cy="247.35" r="2.7"/><path d="M66.14 249.05l3.4 -3.4" stroke="#4a4a4a" stroke-width="1.0"/><circle cx="69.01" cy="242.33" r="2.7"/><path d="M67.31 244.03l3.4 -3.4" stroke="#4a4a4a" stroke-width="1.0"/><circle cx="70.26" cy="240.14" r="2.7"/><path d="M68.56 241.84l3.4 -3.4" stroke="#4a4a4a" stroke-width="1.0"/><circle cx="71.62" cy="236.79" r="2.7"/><path d="M69.92 238.49l3.4 -3.4" stroke="#4a4a4a" stroke-width="1.0"/><circle cx="73.09" cy="233.44" r="2.7"/><path d="M71.39 235.14l3.4 -3.4" stroke="#4a4a4a" stroke-width="1.0"/><circle cx="74.5" cy="230.86" r="2.7"/><path d="M72.8 232.56l3.4 -3.4" stroke="#4a4a4a" stroke-width="1.0"/><circle cx="75.97" cy="227.38" r="2.7"/><path d="M74.27 229.08l3.4 -3.4" stroke="#4a4a4a" stroke-width="1.0"/><circle cx="77.43" cy="223.77" r="2.7"/><path d="M75.73 225.47l3.4 -3.4" stroke="#4a4a4a" stroke-width="1.0"/><circle cx="79.75" cy="221.46" r="2.7"/><path d="M78.05 223.16l3.4 -3.4" stroke="#4a4a4a" stroke-width="1.0"/><circle cx="80.85" cy="217.98" r="2.7"/><path d="M79.15 219.68l3.4 -3.4" stroke="#4a4a4a" stroke-width="1.0"/><circle cx="82.36" cy="214.5" r="2.7"/><path d="M80.66 216.2l3.4 -3.4" stroke="#4a4a4a" stroke-width="1.0"/><circle cx="85.04" cy="211.4" r="2.7"/><path d="M83.34 213.1l3.4 -3.4" stroke="#4a4a4a" stroke-width="1.0"/><circle cx="87.32" cy="209.34" r="2.7"/><path d="M85.62 211.04l3.4 -3.4" stroke="#4a4a4a" stroke-width="1.0"/><circle cx="90" cy="203.16" r="2.7"/><path d="M88.3 204.86l3.4 -3.4" stroke="#4a4a4a" stroke-width="1.0"/><circle cx="92.61" cy="199.94" r="2.7"/><path d="M90.91 201.64l3.4 -3.4" stroke="#4a4a4a" stroke-width="1.0"/><circle cx="95.83" cy="196.46" r="2.7"/><path d="M94.13 198.16l3.4 -3.4" stroke="#4a4a4a" stroke-width="1.0"/><circle cx="99.22" cy="191.69" r="2.7"/><path d="M97.52 193.39l3.4 -3.4" stroke="#4a4a4a" stroke-width="1.0"/><circle cx="102.98" cy="188.86" r="2.7"/><path d="M101.28 190.56l3.4 -3.4" stroke="#4a4a4a" stroke-width="1.0"/><circle cx="107.14" cy="183.44" r="2.7"/><path d="M105.44 185.14l3.4 -3.4" stroke="#4a4a4a" stroke-width="1.0"/><circle cx="111.7" cy="180.48" r="2.7"/><path d="M110 182.18l3.4 -3.4" stroke="#4a4a4a" stroke-width="1.0"/><circle cx="116.84" cy="175.71" r="2.7"/><path d="M115.14 177.41l3.4 -3.4" stroke="#4a4a4a" stroke-width="1.0"/><circle cx="122.5" cy="172.23" r="2.7"/><path d="M120.8 173.93l3.4 -3.4" stroke="#4a4a4a" stroke-width="1.0"/><circle cx="128.98" cy="165.66" r="2.7"/><path d="M127.28 167.36l3.4 -3.4" stroke="#4a4a4a" stroke-width="1.0"/><circle cx="136.42" cy="160.64" r="2.7"/><path d="M134.72 162.34l3.4 -3.4" stroke="#4a4a4a" stroke-width="1.0"/><circle cx="143.33" cy="155.36" r="2.7"/><path d="M141.63 157.06l3.4 -3.4" stroke="#4a4a4a" stroke-width="1.0"/><circle cx="94.18" cy="203.03" r="2.7"/><path d="M92.48 204.73l3.4 -3.4" stroke="#4a4a4a" stroke-width="1.0"/><circle cx="101.09" cy="195.81" r="2.7"/><path d="M99.39 197.51l3.4 -3.4" stroke="#4a4a4a" stroke-width="1.0"/><circle cx="108.24" cy="188.34" r="2.7"/><path d="M106.54 190.04l3.4 -3.4" stroke="#4a4a4a" stroke-width="1.0"/><circle cx="115.2" cy="181.13" r="2.7"/><path d="M113.5 182.83l3.4 -3.4" stroke="#4a4a4a" stroke-width="1.0"/><circle cx="129.59" cy="167.34" r="2.7"/><path d="M127.89 169.04l3.4 -3.4" stroke="#4a4a4a" stroke-width="1.0"/><circle cx="150.17" cy="150.33" r="2.7"/><path d="M148.47 152.03l3.4 -3.4" stroke="#4a4a4a" stroke-width="1.0"/><circle cx="157.03" cy="147.75" r="2.7"/><path d="M155.33 149.45l3.4 -3.4" stroke="#4a4a4a" stroke-width="1.0"/><circle cx="163.88" cy="144.27" r="2.7"/><path d="M162.18 145.97l3.4 -3.4" stroke="#4a4a4a" stroke-width="1.0"/><circle cx="171.12" cy="141.44" r="2.7"/><path d="M169.42 143.14l3.4 -3.4" stroke="#4a4a4a" stroke-width="1.0"/><circle cx="177.97" cy="139.12" r="2.7"/><path d="M176.27 140.82l3.4 -3.4" stroke="#4a4a4a" stroke-width="1.0"/><circle cx="184.83" cy="135.38" r="2.7"/><path d="M183.13 137.08l3.4 -3.4" stroke="#4a4a4a" stroke-width="1.0"/><circle cx="191.3" cy="132.03" r="2.7"/><path d="M189.6 133.73l3.4 -3.4" stroke="#4a4a4a" stroke-width="1.0"/><circle cx="198.15" cy="128.94" r="2.7"/><path d="M196.45 130.64l3.4 -3.4" stroke="#4a4a4a" stroke-width="1.0"/><circle cx="206.44" cy="126.62" r="2.7"/><path d="M204.74 128.32l3.4 -3.4" stroke="#4a4a4a" stroke-width="1.0"/><circle cx="212.82" cy="124.95" r="2.7"/><path d="M211.12 126.65l3.4 -3.4" stroke="#4a4a4a" stroke-width="1.0"/><circle cx="219.57" cy="123.14" r="2.7"/><path d="M217.87 124.84l3.4 -3.4" stroke="#4a4a4a" stroke-width="1.0"/><circle cx="226.52" cy="120.18" r="2.7"/><path d="M224.82 121.88l3.4 -3.4" stroke="#4a4a4a" stroke-width="1.0"/><circle cx="233.28" cy="117.47" r="2.7"/><path d="M231.58 119.17l3.4 -3.4" stroke="#4a4a4a" stroke-width="1.0"/><circle cx="240.23" cy="116.31" r="2.7"/><path d="M238.53 118.01l3.4 -3.4" stroke="#4a4a4a" stroke-width="1.0"/><circle cx="247.56" cy="113.74" r="2.7"/><path d="M245.86 115.44l3.4 -3.4" stroke="#4a4a4a" stroke-width="1.0"/><circle cx="254.42" cy="112.32" r="2.7"/><path d="M252.72 114.02l3.4 -3.4" stroke="#4a4a4a" stroke-width="1.0"/><circle cx="259.84" cy="110.64" r="2.7"/><path d="M258.14 112.34l3.4 -3.4" stroke="#4a4a4a" stroke-width="1.0"/><circle cx="267.56" cy="107.68" r="2.7"/><path d="M265.86 109.38l3.4 -3.4" stroke="#4a4a4a" stroke-width="1.0"/><circle cx="274.98" cy="106.52" r="2.7"/><path d="M273.28 108.22l3.4 -3.4" stroke="#4a4a4a" stroke-width="1.0"/><circle cx="282.22" cy="104.33" r="2.7"/><path d="M280.52 106.03l3.4 -3.4" stroke="#4a4a4a" stroke-width="1.0"/><circle cx="289.36" cy="102.14" r="2.7"/><path d="M287.66 103.84l3.4 -3.4" stroke="#4a4a4a" stroke-width="1.0"/><circle cx="296.21" cy="99.95" r="2.7"/><path d="M294.51 101.65l3.4 -3.4" stroke="#4a4a4a" stroke-width="1.0"/><circle cx="303.26" cy="95.96" r="2.7"/><path d="M301.56 97.66l3.4 -3.4" stroke="#4a4a4a" stroke-width="1.0"/><circle cx="310.49" cy="93.38" r="2.7"/><path d="M308.79 95.08l3.4 -3.4" stroke="#4a4a4a" stroke-width="1.0"/><circle cx="317.34" cy="91.7" r="2.7"/><path d="M315.64 93.4l3.4 -3.4" stroke="#4a4a4a" stroke-width="1.0"/><circle cx="324.2" cy="90.03" r="2.7"/><path d="M322.5 91.73l3.4 -3.4" stroke="#4a4a4a" stroke-width="1.0"/><circle cx="331.43" cy="83.97" r="2.7"/><path d="M329.73 85.67l3.4 -3.4" stroke="#4a4a4a" stroke-width="1.0"/></g><path d="M52.97 217.72V243.49M51.47 217.72h3.0M51.47 243.49h3.0M54.02 209.01V234.16M52.52 209.01h3.0M52.52 234.16h3.0M54.78 198.84V222.42M53.28 198.84h3.0M53.28 222.42h3.0M55.93 190.95V211.25M54.43 190.95h3.0M54.43 211.25h3.0M56.97 186.25V203.58M55.47 186.25h3.0M55.47 203.58h3.0M57.83 180.63V196.31M56.33 180.63h3.0M56.33 196.31h3.0M58.59 174.55V189.5M57.09 174.55h3.0M57.09 189.5h3.0M59.26 170.84V185.22M57.76 170.84h3.0M57.76 185.22h3.0M59.92 167.12V180.96M58.42 167.12h3.0M58.42 180.96h3.0M60.88 162.57V175.72M59.38 162.57h3.0M59.38 175.72h3.0M61.64 157.67V170.31M60.14 157.67h3.0M60.14 170.31h3.0M62.78 152.98V164.95M61.28 152.98h3.0M61.28 164.95h3.0M63.83 147.44V158.89M62.33 147.44h3.0M62.33 158.89h3.0M65.26 141.8V152.68M63.76 141.8h3.0M63.76 152.68h3.0M66.68 135.81V146.29M65.18 135.81h3.0M65.18 146.29h3.0M68.84 128.65V138.77M67.34 128.65h3.0M67.34 138.77h3.0M71.22 121.96V131.8M69.72 121.96h3.0M69.72 131.8h3.0M73.78 115.49V125.13M72.28 115.49h3.0M72.28 125.13h3.0M76.93 109.15V118.58M75.43 109.15h3.0M75.43 118.58h3.0M80.68 103.37V112.51M79.18 103.37h3.0M79.18 112.51h3.0M84.71 98.83V107.51M83.21 98.83h3.0M83.21 107.51h3.0M89.44 95.56V103.57M87.94 95.56h3.0M87.94 103.57h3.0M94.53 92.77V99.92M93.03 92.77h3.0M93.03 99.92h3.0M100.56 90.02V95.7M99.06 90.02h3.0M99.06 95.7h3.0M107.51 87.58V93.25M106.01 87.58h3.0M106.01 93.25h3.0M114.55 84.36V90.03M113.05 84.36h3.0M113.05 90.03h3.0M121.4 81.4V87.06M119.9 81.4h3.0M119.9 87.06h3.0M128.26 79.2V84.87M126.76 79.2h3.0M126.76 84.87h3.0M135.27 77.79V85.52M133.77 77.79h3.0M133.77 85.52h3.0M142.21 76.76V84.49M140.71 76.76h3.0M140.71 84.49h3.0M149.03 77.01V84.74M147.53 77.01h3.0M147.53 84.74h3.0M155.93 76.39V84.13M154.43 76.39h3.0M154.43 84.13h3.0M162.84 75.58V83.31M161.34 75.58h3.0M161.34 83.31h3.0M169.74 73.13V82.91M168.24 73.13h3.0M168.24 82.91h3.0M176.64 70.41V83.53M175.14 70.41h3.0M175.14 83.53h3.0M183.54 68.62V84.69M182.04 68.62h3.0M182.04 84.69h3.0M190.44 65.28V84.45M188.94 65.28h3.0M188.94 84.45h3.0M197.35 63.19V85.53M195.85 63.19h3.0M195.85 85.53h3.0M204.25 60.85V86.36M202.75 60.85h3.0M202.75 86.36h3.0M211.15 58.6V87.26M209.65 58.6h3.0M209.65 87.26h3.0M218.05 56.31V88.16M216.55 56.31h3.0M216.55 88.16h3.0M224.95 53.67V88.88M223.45 53.67h3.0M223.45 88.88h3.0M231.86 51.15V89.97M230.36 51.15h3.0M230.36 89.97h3.0M238.76 49.07V91.67M237.26 49.07h3.0M237.26 91.67h3.0M245.66 46.94V93.39M244.16 46.94h3.0M244.16 93.39h3.0M252.56 44.2V94.51M251.06 44.2h3.0M251.06 94.51h3.0M259.46 41.81V95.99M257.96 41.81h3.0M257.96 95.99h3.0M266.37 39.86V97.94M264.87 39.86h3.0M264.87 97.94h3.0M273.27 37.88V99.91M271.77 37.88h3.0M271.77 99.91h3.0M280.17 35.87V101.92M278.67 35.87h3.0M278.67 101.92h3.0M287.07 33.82V103.97M285.57 33.82h3.0M285.57 103.97h3.0M293.97 31.79V106.13M292.47 31.79h3.0M292.47 106.13h3.0M300.88 29.78V108.44M299.38 29.78h3.0M299.38 108.44h3.0M307.78 27.52V111.07M306.28 27.52h3.0M306.28 111.07h3.0M314.68 25.03V113.92M313.18 25.03h3.0M313.18 113.92h3.0M321.58 22.71V116.52M320.08 22.71h3.0M320.08 116.52h3.0M328.48 20.95V118.39M326.98 20.95h3.0M326.98 118.39h3.0M57.26 184.57V201.24M55.76 184.57h3.0M55.76 201.24h3.0M57.54 182.68V198.78M56.04 182.68h3.0M56.04 198.78h3.0M57.83 180.63V196.31M56.33 180.63h3.0M56.33 196.31h3.0M58.12 178.32V193.7M56.62 178.32h3.0M56.62 193.7h3.0M58.4 175.94V191.05M56.9 175.94h3.0M56.9 191.05h3.0M58.69 173.96V188.82M57.19 173.96h3.0M57.19 188.82h3.0M58.97 172.37V186.98M57.47 172.37h3.0M57.47 186.98h3.0M59.26 170.84V185.22M57.76 170.84h3.0M57.76 185.22h3.0M59.54 169.22V183.36M58.04 169.22h3.0M58.04 183.36h3.0M59.83 167.62V181.54M58.33 167.62h3.0M58.33 181.54h3.0" stroke="#9a9a9a" stroke-width="1.0" fill="none"/><g fill="#0f1a33"><rect x="51.27" y="228.9" width="3.4" height="3.4" rx="0.5"/><rect x="52.32" y="219.88" width="3.4" height="3.4" rx="0.5"/><rect x="53.08" y="208.93" width="3.4" height="3.4" rx="0.5"/><rect x="54.23" y="199.4" width="3.4" height="3.4" rx="0.5"/><rect x="55.27" y="193.21" width="3.4" height="3.4" rx="0.5"/><rect x="56.13" y="186.77" width="3.4" height="3.4" rx="0.5"/><rect x="56.89" y="180.33" width="3.4" height="3.4" rx="0.5"/><rect x="57.56" y="176.33" width="3.4" height="3.4" rx="0.5"/><rect x="58.22" y="172.34" width="3.4" height="3.4" rx="0.5"/><rect x="59.18" y="167.44" width="3.4" height="3.4" rx="0.5"/><rect x="59.94" y="162.29" width="3.4" height="3.4" rx="0.5"/><rect x="61.08" y="157.26" width="3.4" height="3.4" rx="0.5"/><rect x="62.13" y="151.46" width="3.4" height="3.4" rx="0.5"/><rect x="63.56" y="145.54" width="3.4" height="3.4" rx="0.5"/><rect x="64.98" y="139.35" width="3.4" height="3.4" rx="0.5"/><rect x="67.14" y="132.01" width="3.4" height="3.4" rx="0.5"/><rect x="69.52" y="125.18" width="3.4" height="3.4" rx="0.5"/><rect x="72.08" y="118.61" width="3.4" height="3.4" rx="0.5"/><rect x="75.23" y="112.17" width="3.4" height="3.4" rx="0.5"/><rect x="78.98" y="106.24" width="3.4" height="3.4" rx="0.5"/><rect x="83.01" y="101.47" width="3.4" height="3.4" rx="0.5"/><rect x="87.74" y="97.86" width="3.4" height="3.4" rx="0.5"/><rect x="92.83" y="94.64" width="3.4" height="3.4" rx="0.5"/><rect x="98.86" y="91.16" width="3.4" height="3.4" rx="0.5"/><rect x="105.81" y="88.71" width="3.4" height="3.4" rx="0.5"/><rect x="112.85" y="85.49" width="3.4" height="3.4" rx="0.5"/><rect x="119.7" y="82.53" width="3.4" height="3.4" rx="0.5"/><rect x="126.56" y="80.34" width="3.4" height="3.4" rx="0.5"/><rect x="133.57" y="79.95" width="3.4" height="3.4" rx="0.5"/><rect x="140.51" y="78.92" width="3.4" height="3.4" rx="0.5"/><rect x="147.33" y="79.18" width="3.4" height="3.4" rx="0.5"/><rect x="154.23" y="78.56" width="3.4" height="3.4" rx="0.5"/><rect x="161.14" y="77.75" width="3.4" height="3.4" rx="0.5"/><rect x="168.04" y="76.32" width="3.4" height="3.4" rx="0.5"/><rect x="174.94" y="75.27" width="3.4" height="3.4" rx="0.5"/><rect x="181.84" y="74.96" width="3.4" height="3.4" rx="0.5"/><rect x="188.74" y="73.16" width="3.4" height="3.4" rx="0.5"/><rect x="195.65" y="72.66" width="3.4" height="3.4" rx="0.5"/><rect x="202.55" y="71.91" width="3.4" height="3.4" rx="0.5"/><rect x="209.45" y="71.23" width="3.4" height="3.4" rx="0.5"/><rect x="216.35" y="70.54" width="3.4" height="3.4" rx="0.5"/><rect x="223.25" y="69.57" width="3.4" height="3.4" rx="0.5"/><rect x="230.16" y="68.86" width="3.4" height="3.4" rx="0.5"/><rect x="237.06" y="68.67" width="3.4" height="3.4" rx="0.5"/><rect x="243.96" y="68.47" width="3.4" height="3.4" rx="0.5"/><rect x="250.86" y="67.66" width="3.4" height="3.4" rx="0.5"/><rect x="257.76" y="67.2" width="3.4" height="3.4" rx="0.5"/><rect x="264.67" y="67.2" width="3.4" height="3.4" rx="0.5"/><rect x="271.57" y="67.2" width="3.4" height="3.4" rx="0.5"/><rect x="278.47" y="67.2" width="3.4" height="3.4" rx="0.5"/><rect x="285.37" y="67.2" width="3.4" height="3.4" rx="0.5"/><rect x="292.27" y="67.26" width="3.4" height="3.4" rx="0.5"/><rect x="299.18" y="67.41" width="3.4" height="3.4" rx="0.5"/><rect x="306.08" y="67.59" width="3.4" height="3.4" rx="0.5"/><rect x="312.98" y="67.78" width="3.4" height="3.4" rx="0.5"/><rect x="319.88" y="67.92" width="3.4" height="3.4" rx="0.5"/><rect x="326.78" y="67.97" width="3.4" height="3.4" rx="0.5"/><rect x="55.56" y="191.2" width="3.4" height="3.4" rx="0.5"/><rect x="55.84" y="189.03" width="3.4" height="3.4" rx="0.5"/><rect x="56.13" y="186.77" width="3.4" height="3.4" rx="0.5"/><rect x="56.42" y="184.31" width="3.4" height="3.4" rx="0.5"/><rect x="56.7" y="181.8" width="3.4" height="3.4" rx="0.5"/><rect x="56.99" y="179.69" width="3.4" height="3.4" rx="0.5"/><rect x="57.27" y="177.97" width="3.4" height="3.4" rx="0.5"/><rect x="57.56" y="176.33" width="3.4" height="3.4" rx="0.5"/><rect x="57.84" y="174.59" width="3.4" height="3.4" rx="0.5"/><rect x="58.13" y="172.88" width="3.4" height="3.4" rx="0.5"/></g></g><g><circle cx="60.6" cy="22.9" r="2.85" fill="#000"/><path d="M143.8 20.099999999999998l2.8 2.8l-2.8 2.8l-2.8 -2.8z" fill="#a8a8a8" stroke="#383838" stroke-width="1.15"/><path d="M60.6 32.35l2.65 2.65l-2.65 2.65l-2.65 -2.65z" fill="#fff" stroke="#303030" stroke-width="1.15"/><circle cx="143.8" cy="35.0" r="2.75" fill="#fff" stroke="#444" stroke-width="1.15"/><circle cx="60.6" cy="47.1" r="2.85" fill="#a0a0a0" stroke="#555" stroke-width="1.2"/><circle cx="60.6" cy="47.1" r="1" fill="#c4c4c4"/><circle cx="143.8" cy="47.1" r="2.6" fill="#eeeeee" stroke="#1a1a1a" stroke-width="1.35"/><path d="M142.10000000000002 48.800000000000004l3.4 -3.4" stroke="#444" stroke-width="0.9"/><rect x="59.1" y="57.7" width="3" height="3" fill="#0f1a33"/></g><g font-family="Liberation Serif" font-size="10.1" fill="#595959" stroke="#595959" stroke-width="0.22"><text x="65.3" y="26.3">NWA5000</text><text x="147.6" y="26.3">NWA6950</text><text x="65.3" y="38.4">NWA8687</text><text x="147.6" y="38.4">NWA10678</text><text x="65.3" y="50.5">NWA11421</text><text x="147.6" y="50.5">NWA11474</text><text x="65.3" y="62.6">Terr. Anorthosite</text></g><path d="M396.7 9.0V308.3M432.4 9.0V308.3M468.1 9.0V308.3M503.8 9.0V308.3M539.5 9.0V308.3M575.2 9.0V308.3M610.9 9.0V308.3M646.6 9.0V308.3M682.3 9.0V308.3M396.7 243.88H682.3M396.7 179.45H682.3M396.7 115.03H682.3M396.7 50.6H682.3" stroke="#e2e2e2" stroke-width="1" fill="none"/><path d="M396.7 308.3H682.3M396.7 9.0V308.3" stroke="#dadada" stroke-width="1" fill="none"/><g font-family="Liberation Serif" font-size="9.75" fill="#595959" stroke="#595959" stroke-width="0.22"><text x="396.7" y="323" text-anchor="middle">20</text><text x="432.4" y="323" text-anchor="middle">30</text><text x="468.1" y="323" text-anchor="middle">40</text><text x="503.8" y="323" text-anchor="middle">50</text><text x="539.5" y="323" text-anchor="middle">60</text><text x="575.2" y="323" text-anchor="middle">70</text><text x="610.9" y="323" text-anchor="middle">80</text><text x="646.6" y="323" text-anchor="middle">90</text><text x="682.3" y="323" text-anchor="middle">100</text><text x="388.6" y="311.6" text-anchor="end">0</text><text x="388.6" y="247.18" text-anchor="end">0.5</text><text x="388.6" y="182.75" text-anchor="end">1</text><text x="388.6" y="118.33" text-anchor="end">1.5</text><text x="388.6" y="53.9" text-anchor="end">2</text></g><text x="539.5" y="335.9" text-anchor="middle" font-family="Liberation Serif" font-size="11.2" fill="#595959" stroke="#595959" stroke-width="0.2">Temperature (K)</text><text transform="translate(370.2 160.0) rotate(-90)" text-anchor="middle" font-family="Liberation Serif" font-size="11.4" fill="#595959" stroke="#595959" stroke-width="0.2">Thermal conductivity <tspan font-style="italic">κ</tspan> (W m<tspan font-size="7.8" dy="-4.2">−1</tspan><tspan dy="4.2"> K</tspan><tspan font-size="7.8" dy="-4.2">−1</tspan><tspan dy="4.2">)</tspan></text><clipPath id="cR"><rect x="392.7" y="0" width="293.6" height="312.3"/></clipPath><g clip-path="url(#cR)"><g fill="#000"><circle cx="397.41" cy="253.67" r="2.85"/><circle cx="405.98" cy="250.96" r="2.85"/><circle cx="414.55" cy="248" r="2.85"/><circle cx="424.19" cy="245.38" r="2.85"/><circle cx="435.26" cy="242.77" r="2.85"/><circle cx="447.04" cy="240.01" r="2.85"/><circle cx="461.67" cy="236.4" r="2.85"/><circle cx="475.95" cy="233.7" r="2.85"/><circle cx="493.8" cy="230.86" r="2.85"/><circle cx="512.73" cy="228.03" r="2.85"/><circle cx="531.65" cy="225.84" r="2.85"/><circle cx="554.49" cy="223.13" r="2.85"/><circle cx="580.2" cy="220.17" r="2.85"/><circle cx="606.26" cy="218.62" r="2.85"/><circle cx="631.61" cy="216.3" r="2.85"/><circle cx="657.67" cy="213.98" r="2.85"/></g><g fill="#c6c6c6" stroke="#383838" stroke-width="1.25"><path d="M399.98 208.3l2.85 2.85l-2.85 2.85l-2.85 -2.85z"/><path d="M405.09 202.11l2.85 2.85l-2.85 2.85l-2.85 -2.85z"/><path d="M410.52 196.19l2.85 2.85l-2.85 2.85l-2.85 -2.85z"/><path d="M416.58 190l2.85 2.85l-2.85 2.85l-2.85 -2.85z"/><path d="M422.8 183.3l2.85 2.85l-2.85 2.85l-2.85 -2.85z"/><path d="M429.62 176.99l2.85 2.85l-2.85 2.85l-2.85 -2.85z"/><path d="M436.79 169.9l2.85 2.85l-2.85 2.85l-2.85 -2.85z"/><path d="M445.39 163.2l2.85 2.85l-2.85 2.85l-2.85 -2.85z"/><path d="M454.71 156.5l2.85 2.85l-2.85 2.85l-2.85 -2.85z"/><path d="M463.99 148.12l2.85 2.85l-2.85 2.85l-2.85 -2.85z"/><path d="M475.88 140.14l2.85 2.85l-2.85 2.85l-2.85 -2.85z"/><path d="M488.2 132.79l2.85 2.85l-2.85 2.85l-2.85 -2.85z"/><path d="M501.48 125.19l2.85 2.85l-2.85 2.85l-2.85 -2.85z"/><path d="M516.01 117.84l2.85 2.85l-2.85 2.85l-2.85 -2.85z"/><path d="M531.79 109.6l2.85 2.85l-2.85 2.85l-2.85 -2.85z"/><path d="M547.71 104.06l2.85 2.85l-2.85 2.85l-2.85 -2.85z"/><path d="M565.42 97.61l2.85 2.85l-2.85 2.85l-2.85 -2.85z"/><path d="M585.3 91.56l2.85 2.85l-2.85 2.85l-2.85 -2.85z"/><path d="M604.9 87.56l2.85 2.85l-2.85 2.85l-2.85 -2.85z"/><path d="M624.39 83.05l2.85 2.85l-2.85 2.85l-2.85 -2.85z"/><path d="M644.32 79.58l2.85 2.85l-2.85 2.85l-2.85 -2.85z"/><path d="M667.81 75.97l2.85 2.85l-2.85 2.85l-2.85 -2.85z"/></g><g fill="#fff" stroke="#303030" stroke-width="1.15"><path d="M396.63 253.67l2.65 2.65l-2.65 2.65l-2.65 -2.65z"/><path d="M401.7 250.76l2.65 2.65l-2.65 2.65l-2.65 -2.65z"/><path d="M407.05 248.82l2.65 2.65l-2.65 2.65l-2.65 -2.65z"/><path d="M412.52 247.02l2.65 2.65l-2.65 2.65l-2.65 -2.65z"/><path d="M418.01 244.7l2.65 2.65l-2.65 2.65l-2.65 -2.65z"/><path d="M423.51 242.77l2.65 2.65l-2.65 2.65l-2.65 -2.65z"/><path d="M429.12 241.1l2.65 2.65l-2.65 2.65l-2.65 -2.65z"/><path d="M434.79 238.78l2.65 2.65l-2.65 2.65l-2.65 -2.65z"/><path d="M440.29 237.1l2.65 2.65l-2.65 2.65l-2.65 -2.65z"/><path d="M446.29 235.3l2.65 2.65l-2.65 2.65l-2.65 -2.65z"/><path d="M452.21 233.62l2.65 2.65l-2.65 2.65l-2.65 -2.65z"/><path d="M457.71 231.43l2.65 2.65l-2.65 2.65l-2.65 -2.65z"/><path d="M463.39 229.63l2.65 2.65l-2.65 2.65l-2.65 -2.65z"/><path d="M469.21 228.47l2.65 2.65l-2.65 2.65l-2.65 -2.65z"/><path d="M474.88 226.28l2.65 2.65l-2.65 2.65l-2.65 -2.65z"/><path d="M480.92 224.22l2.65 2.65l-2.65 2.65l-2.65 -2.65z"/><path d="M486.91 222.8l2.65 2.65l-2.65 2.65l-2.65 -2.65z"/><path d="M493.48 220.74l2.65 2.65l-2.65 2.65l-2.65 -2.65z"/><path d="M500.41 218.68l2.65 2.65l-2.65 2.65l-2.65 -2.65z"/><path d="M507.58 216.61l2.65 2.65l-2.65 2.65l-2.65 -2.65z"/><path d="M515.51 214.55l2.65 2.65l-2.65 2.65l-2.65 -2.65z"/><path d="M523.4 212.1l2.65 2.65l-2.65 2.65l-2.65 -2.65z"/><path d="M531.4 209.66l2.65 2.65l-2.65 2.65l-2.65 -2.65z"/><path d="M540.29 207.47l2.65 2.65l-2.65 2.65l-2.65 -2.65z"/><path d="M549.39 205.15l2.65 2.65l-2.65 2.65l-2.65 -2.65z"/><path d="M558.1 203.34l2.65 2.65l-2.65 2.65l-2.65 -2.65z"/><path d="M567.31 201.02l2.65 2.65l-2.65 2.65l-2.65 -2.65z"/><path d="M577.31 198.7l2.65 2.65l-2.65 2.65l-2.65 -2.65z"/><path d="M587.09 196.51l2.65 2.65l-2.65 2.65l-2.65 -2.65z"/><path d="M596.69 194.58l2.65 2.65l-2.65 2.65l-2.65 -2.65z"/><path d="M606.69 192.13l2.65 2.65l-2.65 2.65l-2.65 -2.65z"/><path d="M617.29 190.07l2.65 2.65l-2.65 2.65l-2.65 -2.65z"/><path d="M628.71 187.75l2.65 2.65l-2.65 2.65l-2.65 -2.65z"/><path d="M639.71 185.3l2.65 2.65l-2.65 2.65l-2.65 -2.65z"/><path d="M651.6 184.02l2.65 2.65l-2.65 2.65l-2.65 -2.65z"/><path d="M662.99 181.31l2.65 2.65l-2.65 2.65l-2.65 -2.65z"/><path d="M674.52 178.99l2.65 2.65l-2.65 2.65l-2.65 -2.65z"/></g><g fill="#fff" stroke="#2e2e2e" stroke-width="1.15"><circle cx="398.59" cy="248" r="2.75"/><circle cx="410.02" cy="242.33" r="2.75"/><circle cx="424.3" cy="236.66" r="2.75"/><circle cx="442" cy="229.44" r="2.75"/><circle cx="461.71" cy="222.87" r="2.75"/><circle cx="483.99" cy="216.04" r="2.75"/><circle cx="509.3" cy="208.96" r="2.75"/><circle cx="536" cy="201.87" r="2.75"/><circle cx="562.49" cy="195.94" r="2.75"/><circle cx="588.69" cy="190.14" r="2.75"/><circle cx="615.01" cy="185.12" r="2.75"/><circle cx="641.32" cy="180.09" r="2.75"/><circle cx="667.81" cy="174.94" r="2.75"/></g><path d="M415.91 200.19V210.5M413.71 200.19h4.4M413.71 210.5h4.4M438.18 191.69V202M435.98 191.69h4.4M435.98 202h4.4M462.89 183.96V194.27M460.69 183.96h4.4M460.69 194.27h4.4M486.59 177.01V187.3M484.39 177.01h4.4M484.39 187.3h4.4M511.69 173.65V177M509.49 173.65h4.4M509.49 177h4.4M536 167.07V170.44M533.8 167.07h4.4M533.8 170.44h4.4M562.31 160.84V164.3M560.11 160.84h4.4M560.11 164.3h4.4M587.41 154.96V158.58M585.21 154.96h4.4M585.21 158.58h4.4M612.68 149.39V153.34M610.48 149.39h4.4M610.48 153.34h4.4M637.89 142.79V151.95M635.69 142.79h4.4M635.69 151.95h4.4M663.7 137.2V147.48M661.5 137.2h4.4M661.5 147.48h4.4" stroke="#9a9a9a" stroke-width="1.0" fill="none"/><g fill="#a0a0a0" stroke="#555" stroke-width="1.2"><circle cx="415.91" cy="205.35" r="2.85"/><circle cx="415.91" cy="205.35" r="1.0" fill="#c4c4c4" stroke="none"/><circle cx="438.18" cy="196.84" r="2.85"/><circle cx="438.18" cy="196.84" r="1.0" fill="#c4c4c4" stroke="none"/><circle cx="462.89" cy="189.11" r="2.85"/><circle cx="462.89" cy="189.11" r="1.0" fill="#c4c4c4" stroke="none"/><circle cx="486.59" cy="182.16" r="2.85"/><circle cx="486.59" cy="182.16" r="1.0" fill="#c4c4c4" stroke="none"/><circle cx="511.69" cy="175.33" r="2.85"/><circle cx="511.69" cy="175.33" r="1.0" fill="#c4c4c4" stroke="none"/><circle cx="536" cy="168.76" r="2.85"/><circle cx="536" cy="168.76" r="1.0" fill="#c4c4c4" stroke="none"/><circle cx="562.31" cy="162.57" r="2.85"/><circle cx="562.31" cy="162.57" r="1.0" fill="#c4c4c4" stroke="none"/><circle cx="587.41" cy="156.77" r="2.85"/><circle cx="587.41" cy="156.77" r="1.0" fill="#c4c4c4" stroke="none"/><circle cx="612.68" cy="151.36" r="2.85"/><circle cx="612.68" cy="151.36" r="1.0" fill="#c4c4c4" stroke="none"/><circle cx="637.89" cy="147.37" r="2.85"/><circle cx="637.89" cy="147.37" r="1.0" fill="#c4c4c4" stroke="none"/><circle cx="663.7" cy="142.34" r="2.85"/><circle cx="663.7" cy="142.34" r="1.0" fill="#c4c4c4" stroke="none"/></g><g fill="#f0f0f0" stroke="#262626" stroke-width="1.35"><circle cx="397.81" cy="247.35" r="2.7"/><path d="M396.11 249.05l3.4 -3.4" stroke="#4a4a4a" stroke-width="1.0"/><circle cx="402.2" cy="242.33" r="2.7"/><path d="M400.5 244.03l3.4 -3.4" stroke="#4a4a4a" stroke-width="1.0"/><circle cx="406.91" cy="240.14" r="2.7"/><path d="M405.21 241.84l3.4 -3.4" stroke="#4a4a4a" stroke-width="1.0"/><circle cx="412.02" cy="236.79" r="2.7"/><path d="M410.32 238.49l3.4 -3.4" stroke="#4a4a4a" stroke-width="1.0"/><circle cx="417.51" cy="233.44" r="2.7"/><path d="M415.81 235.14l3.4 -3.4" stroke="#4a4a4a" stroke-width="1.0"/><circle cx="422.8" cy="230.86" r="2.7"/><path d="M421.1 232.56l3.4 -3.4" stroke="#4a4a4a" stroke-width="1.0"/><circle cx="428.29" cy="227.38" r="2.7"/><path d="M426.59 229.08l3.4 -3.4" stroke="#4a4a4a" stroke-width="1.0"/><circle cx="433.79" cy="223.77" r="2.7"/><path d="M432.09 225.47l3.4 -3.4" stroke="#4a4a4a" stroke-width="1.0"/><circle cx="442.5" cy="221.46" r="2.7"/><path d="M440.8 223.16l3.4 -3.4" stroke="#4a4a4a" stroke-width="1.0"/><circle cx="446.61" cy="217.98" r="2.7"/><path d="M444.91 219.68l3.4 -3.4" stroke="#4a4a4a" stroke-width="1.0"/><circle cx="452.28" cy="214.5" r="2.7"/><path d="M450.58 216.2l3.4 -3.4" stroke="#4a4a4a" stroke-width="1.0"/><circle cx="462.32" cy="211.4" r="2.7"/><path d="M460.62 213.1l3.4 -3.4" stroke="#4a4a4a" stroke-width="1.0"/><circle cx="470.88" cy="209.34" r="2.7"/><path d="M469.18 211.04l3.4 -3.4" stroke="#4a4a4a" stroke-width="1.0"/><circle cx="480.92" cy="203.16" r="2.7"/><path d="M479.22 204.86l3.4 -3.4" stroke="#4a4a4a" stroke-width="1.0"/><circle cx="490.7" cy="199.94" r="2.7"/><path d="M489 201.64l3.4 -3.4" stroke="#4a4a4a" stroke-width="1.0"/><circle cx="502.8" cy="196.46" r="2.7"/><path d="M501.1 198.16l3.4 -3.4" stroke="#4a4a4a" stroke-width="1.0"/><circle cx="515.51" cy="191.69" r="2.7"/><path d="M513.81 193.39l3.4 -3.4" stroke="#4a4a4a" stroke-width="1.0"/><circle cx="529.61" cy="188.86" r="2.7"/><path d="M527.91 190.56l3.4 -3.4" stroke="#4a4a4a" stroke-width="1.0"/><circle cx="545.21" cy="183.44" r="2.7"/><path d="M543.51 185.14l3.4 -3.4" stroke="#4a4a4a" stroke-width="1.0"/><circle cx="562.31" cy="180.48" r="2.7"/><path d="M560.61 182.18l3.4 -3.4" stroke="#4a4a4a" stroke-width="1.0"/><circle cx="581.59" cy="175.71" r="2.7"/><path d="M579.89 177.41l3.4 -3.4" stroke="#4a4a4a" stroke-width="1.0"/><circle cx="602.8" cy="172.23" r="2.7"/><path d="M601.1 173.93l3.4 -3.4" stroke="#4a4a4a" stroke-width="1.0"/><circle cx="627.11" cy="165.66" r="2.7"/><path d="M625.41 167.36l3.4 -3.4" stroke="#4a4a4a" stroke-width="1.0"/><circle cx="654.99" cy="160.64" r="2.7"/><path d="M653.29 162.34l3.4 -3.4" stroke="#4a4a4a" stroke-width="1.0"/><circle cx="680.91" cy="155.36" r="2.7"/><path d="M679.21 157.06l3.4 -3.4" stroke="#4a4a4a" stroke-width="1.0"/><circle cx="496.59" cy="203.03" r="2.7"/><path d="M494.89 204.73l3.4 -3.4" stroke="#4a4a4a" stroke-width="1.0"/><circle cx="522.51" cy="195.81" r="2.7"/><path d="M520.81 197.51l3.4 -3.4" stroke="#4a4a4a" stroke-width="1.0"/><circle cx="549.32" cy="188.34" r="2.7"/><path d="M547.62 190.04l3.4 -3.4" stroke="#4a4a4a" stroke-width="1.0"/><circle cx="575.41" cy="181.13" r="2.7"/><path d="M573.71 182.83l3.4 -3.4" stroke="#4a4a4a" stroke-width="1.0"/><circle cx="629.39" cy="167.34" r="2.7"/><path d="M627.69 169.04l3.4 -3.4" stroke="#4a4a4a" stroke-width="1.0"/></g><path d="M401.59 128.65V138.77M400.09 128.65h3.0M400.09 138.77h3.0M410.52 121.96V131.8M409.02 121.96h3.0M409.02 131.8h3.0M420.08 115.49V125.13M418.58 115.49h3.0M418.58 125.13h3.0M431.9 109.15V118.58M430.4 109.15h3.0M430.4 118.58h3.0M445.97 103.37V112.51M444.47 103.37h3.0M444.47 112.51h3.0M461.1 98.83V107.51M459.6 98.83h3.0M459.6 107.51h3.0M478.81 95.56V103.57M477.31 95.56h3.0M477.31 103.57h3.0M497.91 92.77V99.92M496.41 92.77h3.0M496.41 99.92h3.0M520.51 90.02V95.7M519.01 90.02h3.0M519.01 95.7h3.0M546.6 87.58V93.25M545.1 87.58h3.0M545.1 93.25h3.0M572.99 84.36V90.03M571.49 84.36h3.0M571.49 90.03h3.0M598.69 81.4V87.06M597.19 81.4h3.0M597.19 87.06h3.0M624.39 79.2V84.87M622.89 79.2h3.0M622.89 84.87h3.0M650.71 77.79V85.52M649.21 77.79h3.0M649.21 85.52h3.0M676.7 76.76V84.49M675.2 76.76h3.0M675.2 84.49h3.0" stroke="#9a9a9a" stroke-width="1.0" fill="none"/><g fill="#0f1a33"><rect x="399.89" y="132.01" width="3.4" height="3.4" rx="0.5"/><rect x="408.82" y="125.18" width="3.4" height="3.4" rx="0.5"/><rect x="418.38" y="118.61" width="3.4" height="3.4" rx="0.5"/><rect x="430.2" y="112.17" width="3.4" height="3.4" rx="0.5"/><rect x="444.27" y="106.24" width="3.4" height="3.4" rx="0.5"/><rect x="459.4" y="101.47" width="3.4" height="3.4" rx="0.5"/><rect x="477.11" y="97.86" width="3.4" height="3.4" rx="0.5"/><rect x="496.21" y="94.64" width="3.4" height="3.4" rx="0.5"/><rect x="518.81" y="91.16" width="3.4" height="3.4" rx="0.5"/><rect x="544.9" y="88.71" width="3.4" height="3.4" rx="0.5"/><rect x="571.29" y="85.49" width="3.4" height="3.4" rx="0.5"/><rect x="596.99" y="82.53" width="3.4" height="3.4" rx="0.5"/><rect x="622.69" y="80.34" width="3.4" height="3.4" rx="0.5"/><rect x="649.01" y="79.95" width="3.4" height="3.4" rx="0.5"/><rect x="675" y="78.92" width="3.4" height="3.4" rx="0.5"/></g></g><g><circle cx="408.5" cy="22.9" r="2.85" fill="#000"/><path d="M491.4 20.099999999999998l2.8 2.8l-2.8 2.8l-2.8 -2.8z" fill="#a8a8a8" stroke="#383838" stroke-width="1.15"/><path d="M408.5 32.35l2.65 2.65l-2.65 2.65l-2.65 -2.65z" fill="#fff" stroke="#303030" stroke-width="1.15"/><circle cx="491.4" cy="35.0" r="2.75" fill="#fff" stroke="#444" stroke-width="1.15"/><circle cx="408.5" cy="47.1" r="2.85" fill="#a0a0a0" stroke="#555" stroke-width="1.2"/><circle cx="408.5" cy="47.1" r="1" fill="#c4c4c4"/><circle cx="491.4" cy="47.1" r="2.6" fill="#eeeeee" stroke="#1a1a1a" stroke-width="1.35"/><path d="M489.7 48.800000000000004l3.4 -3.4" stroke="#444" stroke-width="0.9"/><rect x="407.0" y="57.7" width="3" height="3" fill="#0f1a33"/></g><g font-family="Liberation Serif" font-size="10.1" fill="#595959" stroke="#595959" stroke-width="0.22"><text x="413.3" y="26.3">NWA5000</text><text x="495.7" y="26.3">NWA6950</text><text x="413.3" y="38.4">NWA8687</text><text x="495.7" y="38.4">NWA10678</text><text x="413.3" y="50.5">NWA11421</text><text x="495.7" y="50.5">NWA11474</text><text x="413.3" y="62.6">Terr. Anorthosite</text></g>
</svg>
</body></html>
